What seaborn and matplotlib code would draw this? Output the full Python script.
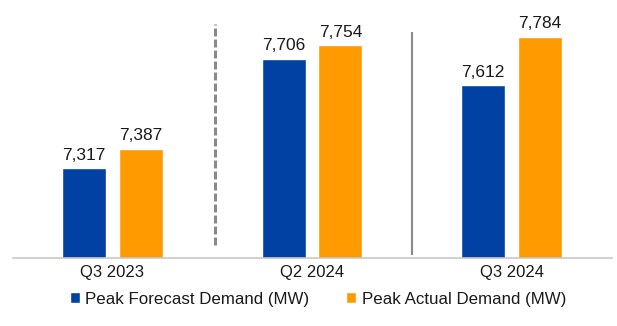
import matplotlib
matplotlib.use("Agg")
import matplotlib.pyplot as plt
import seaborn as sns
import pandas as pd
from matplotlib.patches import Patch

# Quarterly peak demand (MW)
quarters = ["Q3 2023", "Q2 2024", "Q3 2024"]
series_names = ["Peak Forecast Demand (MW)", "Peak Actual Demand (MW)"]
forecast_mw = [7317, 7706, 7612]
actual_mw = [7387, 7754, 7784]

blue = "#0041a3"
orange = "#ff9a00"

df = pd.DataFrame({
    "quarter": quarters * 2,
    "series": [series_names[0]] * len(quarters) + [series_names[1]] * len(quarters),
    "value": forecast_mw + actual_mw,
})

sns.set_theme(style="white")
plt.rcParams["font.family"] = ["Liberation Sans", "DejaVu Sans"]

fig = plt.figure(figsize=(6.17, 3.26), dpi=100)
ax = fig.add_axes([12.5 / 617, 0.2095, 599 / 617, 0.7785])

sns.barplot(data=df, x="quarter", y="value", hue="series",
            palette=[blue, orange], width=0.57, gap=0.228,
            saturation=1, ax=ax, legend=False)

ax.set_ylim(7000, 7900)
ax.set_xlim(-0.5, 2.5)

for container in ax.containers:
    ax.bar_label(container, fmt="{:,.0f}", padding=4, fontsize=12.5,
                 color="#1a1a1a")

# Period separators
ax.vlines(0.515, 7045, 7828, colors="#8a8a8a", linewidth=2.2,
          linestyles=(0, (2.6, 1.0)))
ax.vlines(1.5, 7010, 7800, colors="#8a8a8a", linewidth=1.5)

for side in ["left", "right", "top"]:
    ax.spines[side].set_visible(False)
ax.spines["bottom"].set_color("#c8c8c8")
ax.spines["bottom"].set_linewidth(1.2)
ax.set_yticks([])
ax.set_xlabel("")
ax.set_ylabel("")
ax.tick_params(axis="x", length=0, pad=5, labelsize=12, labelcolor="#1a1a1a")

handles = [Patch(facecolor=blue), Patch(facecolor=orange)]
fig.legend(handles, series_names, loc="center", bbox_to_anchor=(0.515, 0.082),
           ncol=2, frameon=False, fontsize=12.2, handlelength=0.6,
           handleheight=0.6, handletextpad=0.3, columnspacing=2.2,
           labelcolor="#1a1a1a")

fig.savefig("out.png", dpi=100)
